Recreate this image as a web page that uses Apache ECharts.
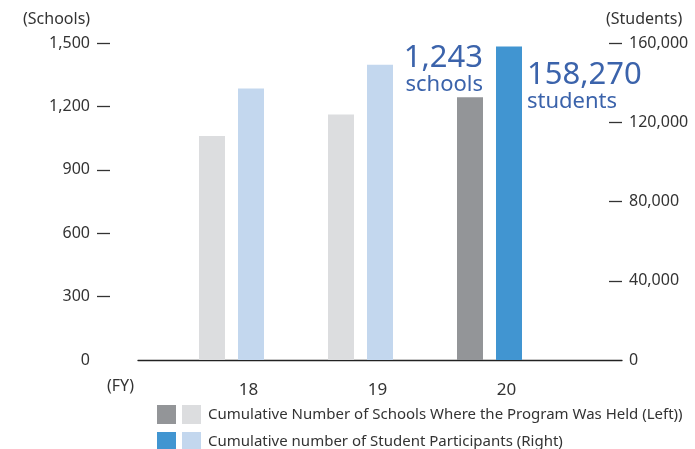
<!DOCTYPE html>
<html>
<head>
<meta charset="utf-8">
<script src="https://cdn.jsdelivr.net/npm/echarts@6/dist/echarts.min.js"></script>
<style>
html,body{margin:0;padding:0;background:#fff;}
#c{width:695px;height:449px;}
</style>
</head>
<body>
<div id="c"></div>
<script>
const categories = ['18', '19', '20'];
const schoolsPast = [1060, 1162, null];
const schoolsLatest = [null, null, 1243];
const studentsPast = [137000, 149000, null];
const studentsLatest = [null, null, 158270];
const schoolTicks = [0, 300, 600, 900, 1200, 1500];
const studentTicks = [0, 40000, 80000, 120000, 160000];

const NAME_S = 'Cumulative Number of Schools Where the Program Was Held (Left))';
const NAME_T = 'Cumulative number of Student Participants (Right)';
const NAME_S2 = 'FY20 schools';
const NAME_T2 = 'FY20 students';

const FONT = '"Noto Sans", Lato, sans-serif';
const TXT = '#333';
const ANN = '#3b63ab';

const fmt = v => v.toLocaleString('en-US');

const chart = echarts.init(document.getElementById('c'));
chart.setOption({
  animation: false,
  textStyle: { fontFamily: FONT },
  grid: [
    { left: 167, width: 387, top: 43, height: 317, outerBoundsMode: 'none', containLabel: false },
    { left: 138, right: 73, top: 43, height: 317, outerBoundsMode: 'none', containLabel: false }
  ],
  xAxis: [
    {
      type: 'category', gridIndex: 0, data: categories,
      axisLine: { show: false }, axisTick: { show: false },
      axisLabel: { color: TXT, fontSize: 17, margin: 22, fontFamily: FONT, padding: [0, 0, 0, 34] }
    },
    {
      type: 'value', gridIndex: 1, min: 0, max: 1, show: true,
      axisLine: { show: true, onZero: false, lineStyle: { color: '#222', width: 1.3 } },
      axisTick: { show: false }, axisLabel: { show: false }, splitLine: { show: false }
    }
  ],
  yAxis: [
    {
      type: 'value', gridIndex: 0, min: 0, max: 1500, interval: 300, position: 'left', offset: 57,
      axisLine: { show: false },
      axisTick: { show: true, length: 13, customValues: [300, 600, 900, 1200, 1500], lineStyle: { color: '#333', width: 1.3 } },
      axisLabel: { color: TXT, fontSize: 16, margin: 20, fontFamily: FONT, customValues: schoolTicks, formatter: v => fmt(v) },
      splitLine: { show: false }
    },
    {
      type: 'value', gridIndex: 0, min: 0, max: 160000, interval: 40000, position: 'right', offset: 68,
      axisLine: { show: false },
      axisTick: { show: true, inside: true, length: 13, customValues: [40000, 80000, 120000, 160000], lineStyle: { color: '#333', width: 1.3 } },
      axisLabel: { color: TXT, fontSize: 16, margin: 7, fontFamily: FONT, customValues: studentTicks, formatter: v => fmt(v) },
      splitLine: { show: false }
    },
    { type: 'value', gridIndex: 1, min: 0, max: 1, show: false }
  ],
  legend: [
    {
      data: [NAME_S2, NAME_T2], orient: 'vertical', left: 157, top: 405, height: 80, padding: 0,
      itemWidth: 19, itemHeight: 19, itemGap: 8, icon: 'rect', selectedMode: false,
      formatter: () => '', textStyle: { fontSize: 15 }
    },
    {
      data: [NAME_S, NAME_T], orient: 'vertical', left: 182, top: 405, height: 80, padding: 0,
      itemWidth: 19, itemHeight: 19, itemGap: 8, icon: 'rect', selectedMode: false,
      textStyle: { color: TXT, fontSize: 15, fontFamily: FONT, padding: [0, 0, 0, 2] }
    }
  ],
  graphic: [
    { type: 'text', left: 23, top: 11, style: { text: '(Schools)', fill: TXT, font: '16px ' + FONT } },
    { type: 'text', left: 606, top: 11, style: { text: '(Students)', fill: TXT, font: '16px ' + FONT } },
    { type: 'text', left: 107, top: 378, style: { text: '(FY)', fill: TXT, font: '16px ' + FONT } }
  ],
  series: [
    {
      name: NAME_S2, type: 'bar', xAxisIndex: 0, yAxisIndex: 0, stack: 'schools',
      data: schoolsLatest, barWidth: 26, barGap: '50%', itemStyle: { color: '#939598' },
      label: {
        show: true, position: ['100%', 0], align: 'right', verticalAlign: 'bottom', offset: [0, -2],
        formatter: p => '{a|' + fmt(p.value) + '}\n{b|schools}',
        rich: {
          a: { fontSize: 31, lineHeight: 30, color: ANN, fontFamily: FONT, align: 'right' },
          b: { fontSize: 22, lineHeight: 22, color: ANN, fontFamily: FONT, align: 'right' }
        }
      }
    },
    {
      name: NAME_S, type: 'bar', xAxisIndex: 0, yAxisIndex: 0, stack: 'schools',
      data: schoolsPast, barWidth: 26, barGap: '50%', itemStyle: { color: '#dcdddf' }
    },
    {
      name: NAME_T2, type: 'bar', xAxisIndex: 0, yAxisIndex: 1, stack: 'students',
      data: studentsLatest, barWidth: 26, barGap: '50%', itemStyle: { color: '#4195d1' },
      label: {
        show: true, position: ['100%', 14], align: 'left', verticalAlign: 'top', offset: [5, 0],
        formatter: p => '{a|' + fmt(p.value) + '}\n{b|students}',
        rich: {
          a: { fontSize: 31, lineHeight: 30, color: ANN, fontFamily: FONT },
          b: { fontSize: 22, lineHeight: 22, color: ANN, fontFamily: FONT }
        }
      }
    },
    {
      name: NAME_T, type: 'bar', xAxisIndex: 0, yAxisIndex: 1, stack: 'students',
      data: studentsPast, barWidth: 26, barGap: '50%', itemStyle: { color: '#c3d7ee' }
    }
  ]
});
</script>
</body>
</html>
